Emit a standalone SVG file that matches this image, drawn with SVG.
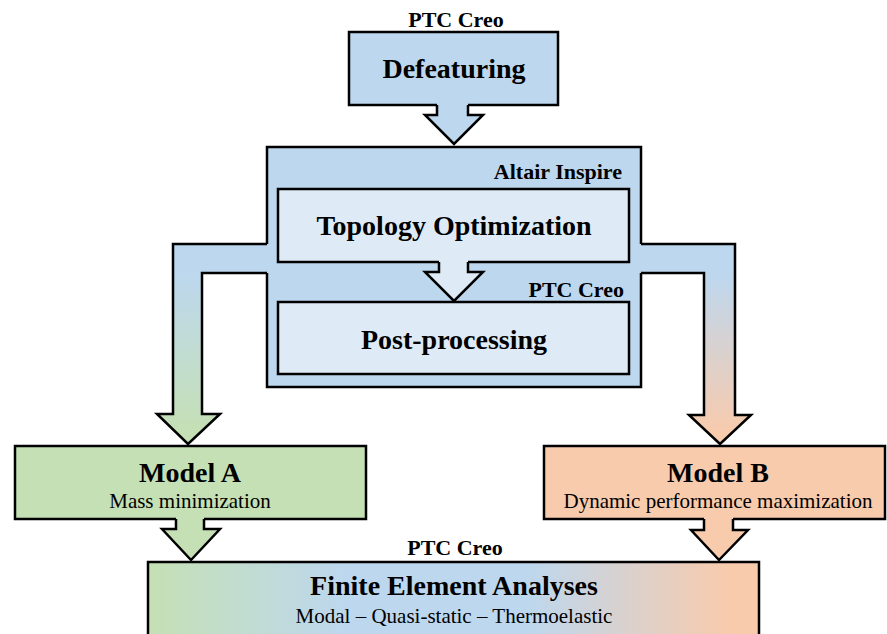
<svg xmlns="http://www.w3.org/2000/svg" width="887" height="634" viewBox="0 0 887 634">
<defs>
<linearGradient id="gLeft" gradientUnits="userSpaceOnUse" x1="0" y1="244" x2="0" y2="444">
<stop offset="0.15" stop-color="#BDD7EE"/><stop offset="0.95" stop-color="#C5E0B4"/>
</linearGradient>
<linearGradient id="gRight" gradientUnits="userSpaceOnUse" x1="0" y1="244" x2="0" y2="444">
<stop offset="0.15" stop-color="#BDD7EE"/><stop offset="0.95" stop-color="#F8CBAD"/>
</linearGradient>
<linearGradient id="gFea" x1="0" y1="0" x2="1" y2="0">
<stop offset="0" stop-color="#C5E0B4"/><stop offset="0.32" stop-color="#BDD7EE"/><stop offset="0.62" stop-color="#BDD7EE"/><stop offset="0.95" stop-color="#F8CBAD"/>
</linearGradient>
</defs>
<style>
.box{stroke:#000;stroke-width:2.5;stroke-linejoin:miter}
.edge{fill:none;stroke:#000;stroke-width:2.5;stroke-linejoin:miter}
.blue{fill:#BDD7EE}.light{fill:#DEEBF7}.green{fill:#C5E0B4}.orange{fill:#F8CBAD}
text{font-family:"Liberation Serif","Times New Roman",serif;fill:#000}
.t{font-size:28px;font-weight:bold;text-anchor:middle}
.s{font-size:21px;text-anchor:middle}
.tool{font-size:22px;font-weight:bold}
</style>
<g id="defeaturing">
<rect class="box blue" x="349" y="32" width="209" height="73"/>
<text class="tool" x="456" y="27" text-anchor="middle">PTC Creo</text>
<text class="t" x="454" y="78">Defeaturing</text>
</g>
<g id="altair-inspire">
<rect class="box blue" x="267" y="147" width="374" height="240"/>
<text class="tool" x="622" y="179" text-anchor="end">Altair Inspire</text>
<text class="tool" x="624" y="297" text-anchor="end">PTC Creo</text>
</g>
<g id="topology-optimization">
<rect class="box light" x="278" y="189" width="351" height="73"/>
<text class="t" x="454" y="235">Topology Optimization</text>
</g>
<g id="post-processing">
<rect class="box light" x="278" y="302" width="351" height="72"/>
<text class="t" x="454" y="349">Post-processing</text>
</g>
<g id="model-a">
<rect class="box green" x="15" y="446" width="351" height="73"/>
<text class="t" x="190" y="482">Model A</text>
<text class="s" x="190" y="508">Mass minimization</text>
</g>
<g id="model-b">
<rect class="box orange" x="544" y="446" width="341" height="73"/>
<text class="t" x="718" y="482">Model B</text>
<text class="s" x="718" y="508">Dynamic performance maximization</text>
</g>
<g id="fea">
<rect class="box" fill="url(#gFea)" x="148" y="562" width="611" height="80"/>
<text class="tool" x="455" y="555" text-anchor="middle">PTC Creo</text>
<text class="t" x="454" y="595">Finite Element Analyses</text>
<text class="s" x="454" y="623">Modal – Quasi-static – Thermoelastic</text>
</g>
<g id="connectors">
<path class="blue" d="M437,103 H468 V115 H483 L454,144 L425,115 H437 Z"/>
<path class="edge" d="M437,105 V115 H425 L454,144 L483,115 H468 V105"/>
<path fill="url(#gLeft)" d="M269,244 H173 V414 H157 L188,444 L220,414 H202 V273 H269 Z"/>
<path class="edge" d="M267,244 H173 V414 H157 L188,444 L220,414 H202 V273 H267"/>
<path fill="url(#gRight)" d="M639,244 H735 V415 H751 L720,444 L689,415 H704 V273 H639 Z"/>
<path class="edge" d="M641,244 H735 V415 H751 L720,444 L689,415 H704 V273 H641"/>
<path class="light" d="M439,260 H468 V272 H483 L454,301 L425,272 H439 Z"/>
<path class="edge" d="M439,262 V272 H425 L454,301 L483,272 H468 V262"/>
<path class="green" d="M176,517 H204 V529 H220 L191,560 L162,529 H176 Z"/>
<path class="edge" d="M176,519 V529 H162 L191,560 L220,529 H204 V519"/>
<path class="orange" d="M704,517 H733 V530 H748 L719,560 L691,530 H704 Z"/>
<path class="edge" d="M704,519 V530 H691 L719,560 L748,530 H733 V519"/>
</g>
</svg>
